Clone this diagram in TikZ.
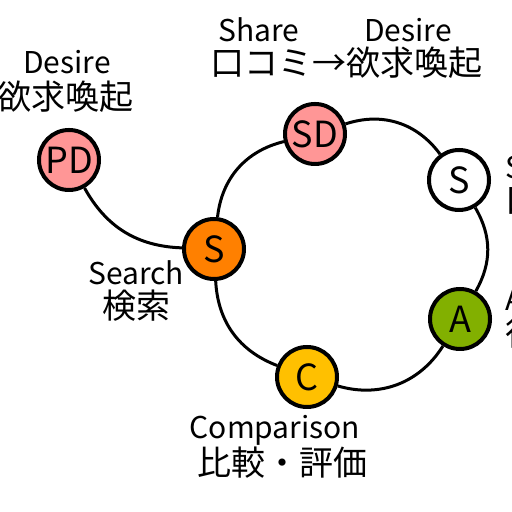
\documentclass[tikz,border=0pt]{standalone}
\usepackage{fontspec}
\setmainfont{Noto Sans CJK JP}
\definecolor{pdpink}{RGB}{255,150,150}
\definecolor{sorange}{RGB}{255,128,0}
\definecolor{cyellow}{RGB}{255,192,0}
\definecolor{agreen}{RGB}{130,176,0}
\begin{document}
\begin{tikzpicture}[x=0.5pt,y=0.5pt,
  stage/.style={circle, draw=black, line width=2pt, minimum size=30pt, inner sep=0pt,
    font=\fontsize{18}{18}\selectfont},
  link/.style={line width=1.5pt, black},
  en/.style={font=\fontsize{15}{15}\selectfont, inner sep=0pt},
  ja/.style={font=\fontsize{17}{17}\selectfont, inner sep=0pt}]
\useasboundingbox (0,0) rectangle (512,512);
\clip (0,0) rectangle (512,512);
\fill[white] (0,0) rectangle (512,512);
% stages
\node[stage, fill=pdpink]  (pd) at (69,352) {PD};
\node[stage, fill=sorange] (so) at (214,263) {S};
\node[stage, fill=pdpink]  (sd) at (315,378) {SD};
\node[stage, fill=white]   (ws) at (459,332) {S};
\node[stage, fill=agreen]  (a)  at (460,193) {A};
\node[stage, fill=cyellow] (c)  at (307,135) {C};
% connectors
\draw[link] (pd) to[out=-61,in=178] (so);
\draw[link] (so) to[bend left=35] (sd);
\draw[link] (sd) to[bend left=36] (ws);
\draw[link] (ws) to[bend left=30] (a);
\draw[link] (a)  to[bend left=37] (c);
\draw[link] (c)  to[bend left=33] (so);
% labels
\node[en] (pdEn) at (67,450) {Desire};
\node[ja] (pdJa) at (65,415) {欲求喚起};
\node[en] (sdEn1) at (259,482) {Share};
\node[en] (sdEn2) at (408,482) {Desire};
\node[ja] (sdJa) at (346,449) {口コミ→欲求喚起};
\node[en] (soEn) at (136,239) {Search};
\node[ja] (soJa) at (136,206) {検索};
\node[en] (cEn) at (275,82) {Comparison};
\node[ja] (cJa) at (282,49) {比較・評価};
\node[en, anchor=west] (wsEn) at (505,345) {Share};
\node[ja, anchor=west] (wsJa) at (505,311) {口コミ};
\node[en, anchor=west] (aEn) at (505,213) {Action};
\node[ja, anchor=west] (aJa) at (505,179) {行動};
\end{tikzpicture}
\end{document}
